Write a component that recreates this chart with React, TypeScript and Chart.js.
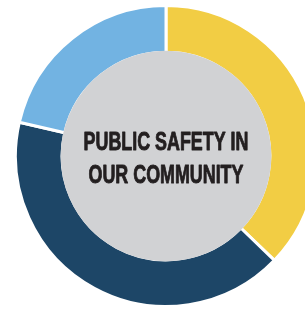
import React, { useEffect, useRef } from "react";
import { Chart, registerables } from "chart.js";

Chart.register(...registerables);

const categories = ["Segment A", "Segment B", "Segment C"];
const values = [37.2, 41.4, 21.4];
const colors = ["#f2cd44", "#1d4667", "#72b3e2"];
const centerLines = ["PUBLIC SAFETY IN", "OUR COMMUNITY"];

const centerPlugin = {
  id: "centerPlugin",
  afterDatasetsDraw(chart: any) {
    const meta = chart.getDatasetMeta(0);
    const arc = meta.data[0];
    if (!arc) return;
    const { x, y, innerRadius } = arc.getProps(["x", "y", "innerRadius"], true);
    const ctx = chart.ctx;
    ctx.save();
    ctx.beginPath();
    ctx.arc(x, y, innerRadius + 1.5, 0, Math.PI * 2);
    ctx.fillStyle = "#d1d2d4";
    ctx.fill();
    ctx.fillStyle = "#231f20";
    ctx.strokeStyle = "#231f20";
    ctx.lineWidth = 0.9;
    ctx.lineJoin = "round";
    ctx.font = "bold 25px 'Liberation Sans', Arial, sans-serif";
    ctx.textAlign = "center";
    ctx.textBaseline = "alphabetic";
    ctx.translate(x, y);
    ctx.scale(0.715, 1);
    ctx.fillText(centerLines[0], 0, -6);
    ctx.strokeText(centerLines[0], 0, -6);
    ctx.fillText(centerLines[1], 0, 26.5);
    ctx.strokeText(centerLines[1], 0, 26.5);
    ctx.restore();
  },
};

export default function App() {
  const ref = useRef<HTMLCanvasElement>(null);
  useEffect(() => {
    if (!ref.current) return;
    const chart = new Chart(ref.current, {
      type: "doughnut",
      data: {
        labels: categories,
        datasets: [
          {
            data: values,
            backgroundColor: colors,
            borderColor: "#ffffff",
            borderWidth: 3,
            hoverOffset: 0,
          },
        ],
      },
      options: {
        responsive: false,
        animation: false,
        cutout: "69%",
        layout: { padding: 0 },
        plugins: {
          legend: { display: false },
          tooltip: { enabled: false },
        },
      },
      plugins: [centerPlugin],
    });
    return () => chart.destroy();
  }, []);
  return (
    <div
      style={{
        position: "fixed",
        left: 0,
        top: 0,
        width: 305,
        height: 310,
        overflow: "hidden",
        background: "#ffffff",
      }}
    >
      <canvas
        ref={ref}
        width={304}
        height={304}
        style={{ position: "absolute", left: 14, top: 4, width: 304, height: 304 }}
      />
    </div>
  );
}
